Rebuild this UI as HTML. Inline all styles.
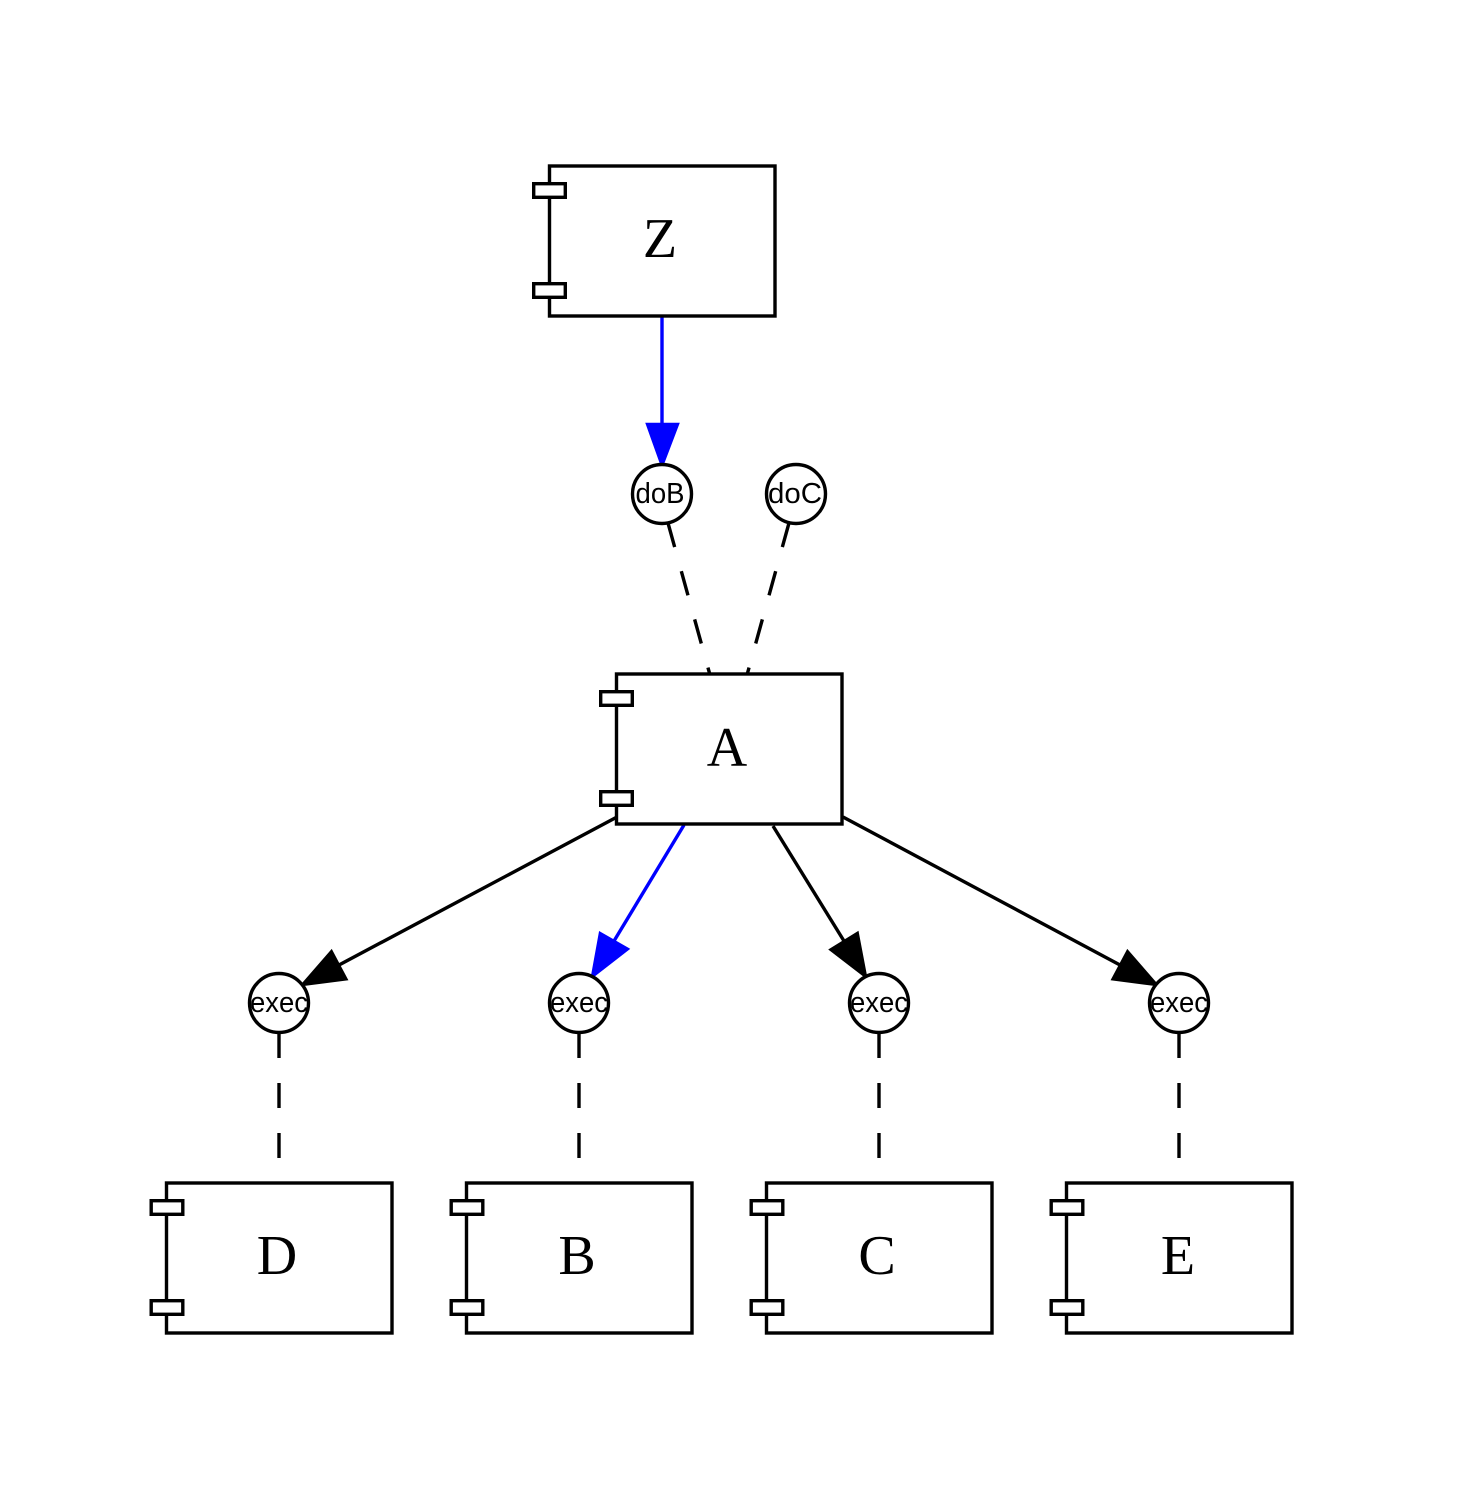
<!DOCTYPE html>
<html>
<head>
<meta charset="utf-8">
<style>
  html, body { margin: 0; padding: 0; background: #ffffff; }
  body { width: 1458px; height: 1500px; overflow: hidden; }
  svg { display: block; }
  .box { fill: #ffffff; stroke: #000; stroke-width: 3.4; stroke-linejoin: miter; }
  .port { fill: #ffffff; stroke: #000; stroke-width: 3.4; }
  .lbl { font-family: "Liberation Serif", "Times New Roman", serif; font-size: 56px; fill: #000; text-anchor: middle; }
  .clbl { font-family: "Liberation Sans", Arial, sans-serif; font-size: 29px; fill: #000; text-anchor: middle; }
  .circ { fill: #ffffff; stroke: #000; stroke-width: 3.4; }
  .dash { stroke: #000; stroke-width: 3.4; stroke-dasharray: 25 25; fill: none; }
  .edge { stroke: #000; stroke-width: 3.4; fill: none; }
  .edgeb { stroke: #0000ff; stroke-width: 3.4; fill: none; }
</style>
</head>
<body>
<svg width="1458" height="1500" viewBox="0 0 1458 1500" xmlns="http://www.w3.org/2000/svg">
  <rect x="0" y="0" width="1458" height="1500" fill="#ffffff"/>

  <!-- Z -> doB (blue) -->
  <line class="edgeb" x1="662" y1="317" x2="662" y2="425"/>
  <polygon points="647,424 678,424 662,466" fill="#0000ff" stroke="#0000ff" stroke-width="2.5"/>

  <!-- dashed doB/doC -> A -->
  <line class="dash" x1="668" y1="523" x2="710" y2="675"/>
  <line class="dash" x1="789" y1="523" x2="747" y2="675"/>

  <!-- A -> exec edges -->
  <line class="edge" x1="617" y1="817" x2="339" y2="965"/>
  <polygon points="346.5,979.3 331.5,951.1 302,985" fill="#000" stroke="#000" stroke-width="2.5"/>

  <line class="edgeb" x1="684" y1="825" x2="614" y2="941"/>
  <polygon points="628,949 600,933 592,977" fill="#0000ff" stroke="#0000ff" stroke-width="2.5"/>

  <line class="edge" x1="773" y1="826" x2="844" y2="941"/>
  <polygon points="857.6,932.8 830.4,949.6 866,977" fill="#000" stroke="#000" stroke-width="2.5"/>

  <line class="edge" x1="843" y1="817" x2="1120" y2="965"/>
  <polygon points="1127.5,951.1 1112.5,979.3 1157,985" fill="#000" stroke="#000" stroke-width="2.5"/>

  <!-- dashed exec -> boxes -->
  <line class="dash" x1="279" y1="1033" x2="279" y2="1183"/>
  <line class="dash" x1="579" y1="1033" x2="579" y2="1183"/>
  <line class="dash" x1="879" y1="1033" x2="879" y2="1183"/>
  <line class="dash" x1="1179" y1="1033" x2="1179" y2="1183"/>

  <!-- Z box -->
  <rect class="box" x="549.5" y="166" width="225.5" height="150"/>
  <rect class="port" x="533.7" y="183.7" width="31.6" height="13.6"/>
  <rect class="port" x="533.7" y="283.7" width="31.6" height="13.6"/>
  <text class="lbl" x="660" y="257">Z</text>

  <!-- doB / doC circles -->
  <circle class="circ" cx="662" cy="494" r="29.5"/>
  <text class="clbl" x="660" y="503" textLength="49" lengthAdjust="spacingAndGlyphs">doB</text>
  <circle class="circ" cx="796" cy="494" r="29.5"/>
  <text class="clbl" x="795" y="503" textLength="54" lengthAdjust="spacingAndGlyphs">doC</text>

  <!-- A box -->
  <rect class="box" x="616.5" y="674" width="225.5" height="150"/>
  <rect class="port" x="600.7" y="691.7" width="31.6" height="13.6"/>
  <rect class="port" x="600.7" y="791.7" width="31.6" height="13.6"/>
  <text class="lbl" x="727" y="766">A</text>

  <!-- exec circles -->
  <circle class="circ" cx="279" cy="1003" r="29.5"/>
  <text class="clbl" x="279" y="1012" textLength="58" lengthAdjust="spacingAndGlyphs">exec</text>
  <circle class="circ" cx="579" cy="1003" r="29.5"/>
  <text class="clbl" x="579" y="1012" textLength="58" lengthAdjust="spacingAndGlyphs">exec</text>
  <circle class="circ" cx="879" cy="1003" r="29.5"/>
  <text class="clbl" x="879" y="1012" textLength="58" lengthAdjust="spacingAndGlyphs">exec</text>
  <circle class="circ" cx="1179" cy="1003" r="29.5"/>
  <text class="clbl" x="1179" y="1012" textLength="58" lengthAdjust="spacingAndGlyphs">exec</text>

  <!-- D box -->
  <rect class="box" x="166.5" y="1183" width="225.5" height="150"/>
  <rect class="port" x="151.2" y="1200.7" width="31.6" height="13.6"/>
  <rect class="port" x="151.2" y="1300.7" width="31.6" height="13.6"/>
  <text class="lbl" x="277" y="1274">D</text>

  <!-- B box -->
  <rect class="box" x="466.5" y="1183" width="225.5" height="150"/>
  <rect class="port" x="451.2" y="1200.7" width="31.6" height="13.6"/>
  <rect class="port" x="451.2" y="1300.7" width="31.6" height="13.6"/>
  <text class="lbl" x="577" y="1274">B</text>

  <!-- C box -->
  <rect class="box" x="766.5" y="1183" width="225.5" height="150"/>
  <rect class="port" x="751.2" y="1200.7" width="31.6" height="13.6"/>
  <rect class="port" x="751.2" y="1300.7" width="31.6" height="13.6"/>
  <text class="lbl" x="877" y="1274">C</text>

  <!-- E box -->
  <rect class="box" x="1066.5" y="1183" width="225.5" height="150"/>
  <rect class="port" x="1051.2" y="1200.7" width="31.6" height="13.6"/>
  <rect class="port" x="1051.2" y="1300.7" width="31.6" height="13.6"/>
  <text class="lbl" x="1178" y="1274">E</text>
</svg>
</body>
</html>
